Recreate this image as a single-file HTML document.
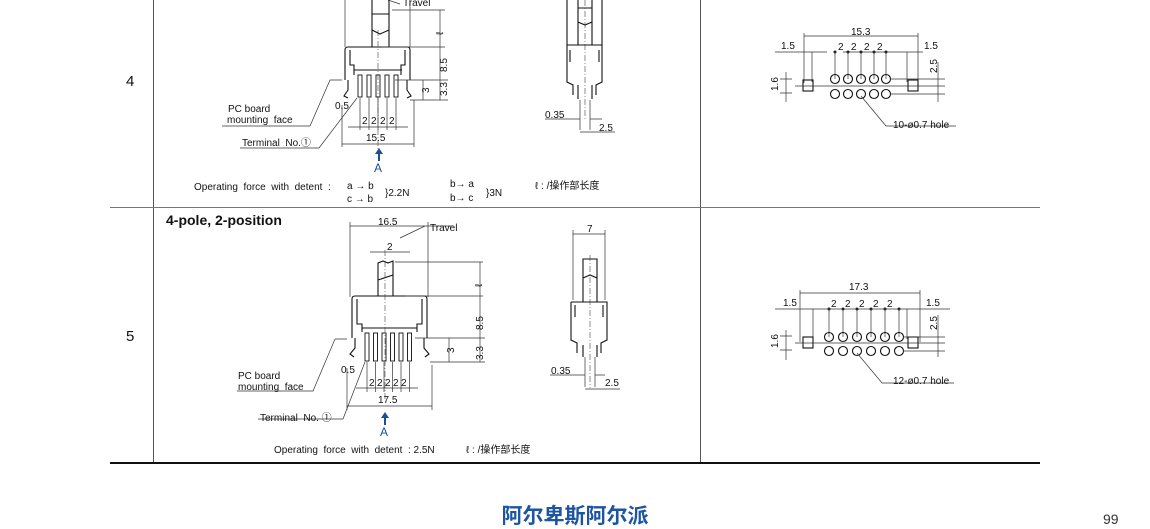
<!DOCTYPE html>
<html><head><meta charset="utf-8"><style>
html,body{margin:0;padding:0;background:#fff}
svg{display:block}
text{font-family:"Liberation Sans","Noto Sans CJK SC",sans-serif;fill:#111}
.s{font-size:10px}
.l{stroke:#111;stroke-width:1.1;fill:none}
.t{stroke:#333;stroke-width:0.7;fill:none}
.c{stroke:#444;stroke-width:0.6;fill:none;stroke-dasharray:6 2 1 2}
.p{stroke:#111;stroke-width:0.9;fill:#fff}
</style></head><body>
<svg width="1150" height="529" viewBox="0 0 1150 529">
<line x1="153.5" y1="0" x2="153.5" y2="463" stroke="#555"/>
<line x1="700.5" y1="0" x2="700.5" y2="463" stroke="#555"/>
<line x1="110" y1="207.5" x2="1040" y2="207.5" stroke="#777"/>
<line x1="110" y1="463" x2="1040" y2="463" stroke="#111" stroke-width="2"/>
<text x="126" y="86" font-size="15">4</text>
<text x="126" y="341" font-size="15">5</text>

<g>
<line class="t" x1="345" y1="0" x2="345" y2="47"/><line class="t" x1="410" y1="0" x2="410" y2="47"/>
<line class="t" x1="388" y1="0" x2="400" y2="4"/><text class="s" x="403" y="6">Travel</text>
<path class="l" d="M372 0V47M389 0V47M372 14h17M372 30l8 4 9-4"/>
<path class="l" d="M345 80V50q0-3 3-3h59q3 0 3 3V80M350 50v15h4v10M405 50v15h-4v10M354 70h48"/>
<path class="l" d="M348 80v10l-4 6 4 2M407 80v10l4 6-4 2"/>
<g class="p"><rect x="358" y="75" width="4" height="22"/><rect x="367" y="75" width="4" height="22"/><rect x="376" y="75" width="4" height="22"/><rect x="385" y="75" width="4" height="22"/><rect x="394" y="75" width="4" height="22"/></g>
<line class="c" x1="378" y1="30" x2="378" y2="150"/>
<path class="t" d="M392 10h53M382 47h63M395 80h53M410 100h38M440 10v90M423 80v20"/>
<text class="s" transform="translate(443 35) rotate(-90)">ℓ</text>
<text class="s" transform="translate(447 72) rotate(-90)">8.5</text>
<text class="s" transform="translate(447 96) rotate(-90)">3.3</text>
<text class="s" transform="translate(429 93) rotate(-90)">3</text>
<path class="t" d="M360 98v32M369 98v32M378 98v32M387 98v32M396 98v32M348 127h60M342 105v42M414 100v47M342 144h72"/>
<text class="s" x="362" y="124">2</text><text class="s" x="371" y="124">2</text><text class="s" x="380" y="124">2</text><text class="s" x="389" y="124">2</text>
<text class="s" x="335" y="109">0.5</text>
<text class="s" x="366" y="141">15.5</text>
<path class="t" d="M330 80l-20 46H222M357 98l-38 50H240M330 80h12"/>
<text class="s" x="228" y="112">PC board</text><text class="s" x="227" y="123">mounting&#160; face</text>
<text class="s" x="242" y="146">Terminal&#160; No.①</text>
<path d="M379 148l-4 6h3v7h2v-7h3z" fill="#1a4f96"/>
<text x="374" y="172" font-size="12" style="fill:#1a4f96">A</text>
<text class="s" x="194" y="190">Operating&#160; force&#160; with&#160; detent&#160; :</text>
<text class="s" x="347" y="189">a → b</text><text class="s" x="347" y="202">c → b</text>
<text class="s" x="385" y="196">}2.2N</text>
<text class="s" x="450" y="187">b→ a</text><text class="s" x="450" y="201">b→ c</text>
<text class="s" x="486" y="196">}3N</text>
<text class="s" x="535" y="189">ℓ : /操作部长度</text>
</g>
<g>
<path class="l" d="M567 0V45M602 0V45M578 0V45M592 0V45M578 8h14M578 22l7 3 7-3"/>
<path class="l" d="M567 45h35v37l-6 3v10M567 45v37l6 3v10M570 50v12M599 50v12M578 85v14M592 85v14"/>
<line class="c" x1="585" y1="0" x2="585" y2="120"/>
<path class="t" d="M545 119h35M590 119h12M580 100v30M590 100v30M580 132h35"/>
<text class="s" x="545" y="118">0.35</text><text class="s" x="599" y="131">2.5</text>
</g>
<g>
<text class="s" x="851" y="35">15.3</text>
<path class="t" d="M804 36h114M804 33v50M918 33v50M775 52h52M843 52h80M780 52h20M812 52v30M907 52v30"/>
<text class="s" x="781" y="49">1.5</text><text class="s" x="924" y="49">1.5</text>
<text class="s" x="838" y="50">2</text><text class="s" x="851" y="50">2</text><text class="s" x="864" y="50">2</text><text class="s" x="877" y="50">2</text>
<g fill="#222"><circle cx="835" cy="52" r="1.5"/><circle cx="848" cy="52" r="1.5"/><circle cx="861" cy="52" r="1.5"/><circle cx="874" cy="52" r="1.5"/><circle cx="886" cy="52" r="1.5"/></g>
<path class="t" d="M835 52v27M848 52v27M861 52v27M874 52v27M886 52v27"/>
<g class="l">
<circle cx="835" cy="79" r="4.5"/><circle cx="848" cy="79" r="4.5"/><circle cx="861" cy="79" r="4.5"/><circle cx="874" cy="79" r="4.5"/><circle cx="886" cy="79" r="4.5"/>
<circle cx="835" cy="94" r="4.5"/><circle cx="848" cy="94" r="4.5"/><circle cx="861" cy="94" r="4.5"/><circle cx="874" cy="94" r="4.5"/><circle cx="886" cy="94" r="4.5"/>
<rect x="803" y="80" width="10" height="11"/><rect x="908" y="80" width="10" height="11"/></g>
<path class="t" d="M780 79h12M780 93h12M786 72v30M890 79h55M890 94h55M795 86h150M938 62v40M861 96l25 30h70"/>
<text class="s" transform="translate(778 91) rotate(-90)">1.6</text>
<text class="s" transform="translate(937 73) rotate(-90)">2.5</text>
<text class="s" x="893" y="128">10-ø0.7 hole</text>
</g>

<text x="166" y="225" font-size="14" font-weight="bold" style="fill:#111">4-pole, 2-position</text>
<g>
<text class="s" x="378" y="225">16.5</text>
<path class="t" d="M350 226h78M350 222v75M428 222v75M400 238l25-12h28M370 252h40"/>
<text class="s" x="430" y="231">Travel</text><text class="s" x="387" y="250">2</text>
<path class="l" d="M378 296V263l5-2 5 2 5-2V296M378 280l15-5"/>
<path class="l" d="M352 338V299q0-3 3-3h69q3 0 3 3V338M357 299v25h5v8M422 299v25h-5v8M362 328h55"/>
<path class="l" d="M355 338v10l-5 6 4 3M424 338v10l5 6-4 3"/>
<g class="p"><rect x="365" y="333" width="4" height="28"/><rect x="373.5" y="333" width="4" height="28"/><rect x="382" y="333" width="4" height="28"/><rect x="390.5" y="333" width="4" height="28"/><rect x="399" y="333" width="4" height="28"/><rect x="407.5" y="333" width="4" height="28"/></g>
<line class="c" x1="385" y1="250" x2="385" y2="400"/>
<path class="t" d="M395 262h88M405 296h78M415 338h70M430 362h55M480 262v100M449 338v24"/>
<text class="s" transform="translate(482 287) rotate(-90)">ℓ</text>
<text class="s" transform="translate(483 330) rotate(-90)">8.5</text>
<text class="s" transform="translate(483 360) rotate(-90)">3.3</text>
<text class="s" transform="translate(454 353) rotate(-90)">3</text>
<path class="t" d="M367 362v30M375.5 362v30M384 362v30M392.5 362v30M401 362v30M409.5 362v30M356 388h62M347 368v42M432 365v45M347 406h85"/>
<text class="s" x="369" y="386">2</text><text class="s" x="377" y="386">2</text><text class="s" x="385" y="386">2</text><text class="s" x="393" y="386">2</text><text class="s" x="401" y="386">2</text>
<text class="s" x="341" y="373">0.5</text><text class="s" x="378" y="403">17.5</text>
<path class="t" d="M335 339l-22 52H237M365 362l-22 57H258M335 339h12"/>
<text class="s" x="238" y="379">PC board</text><text class="s" x="238" y="390">mounting&#160; face</text>
<text class="s" x="260" y="421">Terminal&#160; No. ①</text>
<path d="M385 412l-4 6h3v7h2v-7h3z" fill="#1a4f96"/>
<text x="380" y="436" font-size="12" style="fill:#1a4f96">A</text>
<text class="s" x="274" y="453">Operating&#160; force&#160; with&#160; detent&#160; : 2.5N</text>
<text class="s" x="466" y="453">ℓ : /操作部长度</text>
</g>
<g>
<text class="s" x="587" y="232">7</text>
<path class="t" d="M573 234h32M573 230v70M605 230v70"/>
<path class="l" d="M583 302V259h14v43M583 278l7 -3 7 3M571 302h36v38l-6 3v10M571 302v38l6 3v10M575 305v12M603 305v12M583 345v12M597 345v12"/>
<line class="c" x1="590" y1="255" x2="590" y2="388"/>
<path class="t" d="M550 375h35M595 375h10M585 357v30M595 357v30M585 389h35"/>
<text class="s" x="551" y="374">0.35</text><text class="s" x="605" y="386">2.5</text>
</g>
<g>
<text class="s" x="849" y="290">17.3</text>
<path class="t" d="M800 293h120M800 290v52M920 290v52M775 309h175M813 309v30M907 309v30"/>
<text class="s" x="783" y="306">1.5</text><text class="s" x="926" y="306">1.5</text>
<text class="s" x="831" y="307">2</text><text class="s" x="845" y="307">2</text><text class="s" x="859" y="307">2</text><text class="s" x="873" y="307">2</text><text class="s" x="887" y="307">2</text>
<g fill="#222"><circle cx="829" cy="309" r="1.5"/><circle cx="843" cy="309" r="1.5"/><circle cx="857" cy="309" r="1.5"/><circle cx="871" cy="309" r="1.5"/><circle cx="885" cy="309" r="1.5"/><circle cx="899" cy="309" r="1.5"/></g>
<path class="t" d="M829 309v28M843 309v28M857 309v28M871 309v28M885 309v28M899 309v28"/>
<g class="l">
<circle cx="829" cy="337" r="4.5"/><circle cx="843" cy="337" r="4.5"/><circle cx="857" cy="337" r="4.5"/><circle cx="871" cy="337" r="4.5"/><circle cx="885" cy="337" r="4.5"/><circle cx="899" cy="337" r="4.5"/>
<circle cx="829" cy="351" r="4.5"/><circle cx="843" cy="351" r="4.5"/><circle cx="857" cy="351" r="4.5"/><circle cx="871" cy="351" r="4.5"/><circle cx="885" cy="351" r="4.5"/><circle cx="899" cy="351" r="4.5"/>
<rect x="803" y="337" width="10" height="11"/><rect x="908" y="337" width="10" height="11"/></g>
<path class="t" d="M780 336h12M780 350h12M786 330v30M903 337h42M903 351h42M795 343h150M938 315v42M857 353l25 30h72"/>
<text class="s" transform="translate(778 348) rotate(-90)">1.6</text>
<text class="s" transform="translate(937 330) rotate(-90)">2.5</text>
<text class="s" x="893" y="384">12-ø0.7 hole</text>
</g>

<text x="575" y="523" text-anchor="middle" font-size="21" font-weight="bold" style="fill:#1d55a3">阿尔卑斯阿尔派</text>
<text x="1103" y="524" font-size="14" style="fill:#333">99</text>
</svg>
</body></html>
